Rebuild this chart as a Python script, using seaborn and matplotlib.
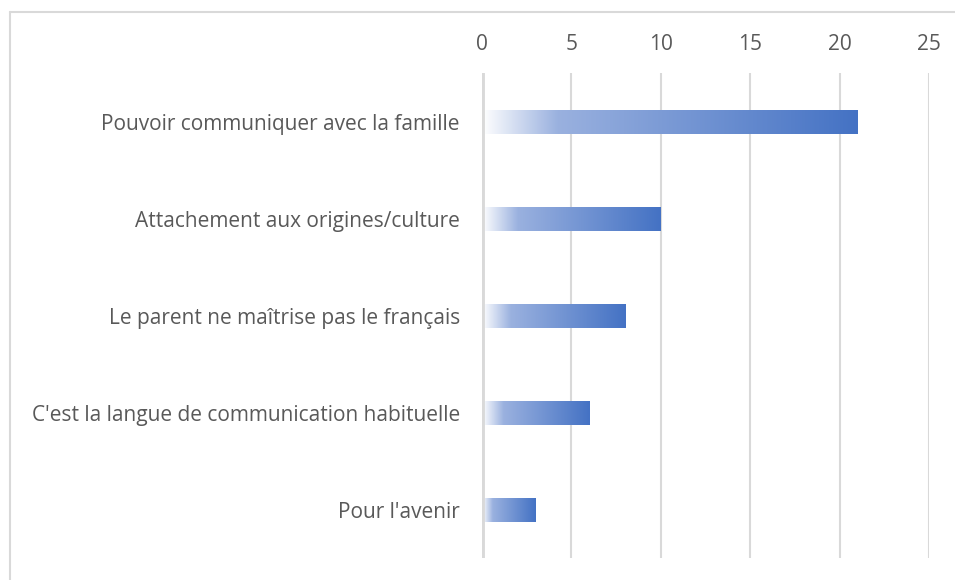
import matplotlib
matplotlib.use("Agg")
import matplotlib.pyplot as plt
import numpy as np
import pandas as pd
import seaborn as sns
from matplotlib.colors import LinearSegmentedColormap
from matplotlib.lines import Line2D

sns.set_theme(style="white")
plt.rcParams["font.family"] = ["Open Sans", "DejaVu Sans"]

categories = [
    "Pouvoir communiquer avec la famille",
    "Attachement aux origines/culture",
    "Le parent ne maîtrise pas le français",
    "C'est la langue de communication habituelle",
    "Pour l'avenir",
]
counts = [21, 10, 8, 6, 3]
x_ticks = [0, 5, 10, 15, 20, 25]

df = pd.DataFrame({"Raison": categories, "Nombre": counts})

GRID = "#d9d9d9"
TEXT = "#595959"
gradient = LinearSegmentedColormap.from_list(
    "excel_blue", [(0.0, "#ffffff"), (0.2, "#9ab1df"), (1.0, "#4472c4")]
)

fig = plt.figure(figsize=(9.55, 5.8), dpi=100)
ax = fig.add_axes([0.5047, 0.0371, 0.4681, 0.8362])

sns.barplot(data=df, x="Nombre", y="Raison", orient="h", width=0.24, ax=ax)

ramp = np.linspace(0, 1, 256).reshape(1, -1)
for bar in ax.patches:
    x0, y0 = bar.get_x(), bar.get_y()
    w, h = bar.get_width(), bar.get_height()
    bar.set_facecolor("none")
    bar.set_edgecolor("none")
    img = ax.imshow(ramp, cmap=gradient, aspect="auto",
                    extent=(x0, x0 + w, y0 + h, y0), zorder=3,
                    interpolation="bilinear")
    img.set_clip_path(bar)

ax.set_xlim(0, 25)
ax.set_ylim(4.5, -0.5)
ax.set_xticks(x_ticks)
ax.xaxis.tick_top()
ax.tick_params(axis="x", length=0, pad=13, labelsize=15, labelcolor=TEXT)
ax.tick_params(axis="y", length=0, pad=16, labelsize=15, labelcolor=TEXT)
ax.set_xlabel("")
ax.set_ylabel("")
for t in x_ticks[1:]:
    ax.axvline(t, color=GRID, lw=1.5, zorder=1)
ax.axvline(0, color=GRID, lw=3.5, zorder=4)
for side in ax.spines.values():
    side.set_visible(False)

# chart area border (top and left edges visible)
fig.add_artist(Line2D([9.5 / 955, 9.5 / 955], [0, 1 - 12 / 580],
                      transform=fig.transFigure, color=GRID, lw=1.5))
fig.add_artist(Line2D([9.5 / 955, 1], [1 - 12 / 580, 1 - 12 / 580],
                      transform=fig.transFigure, color=GRID, lw=1.5))

fig.savefig("out.png", dpi=100)
